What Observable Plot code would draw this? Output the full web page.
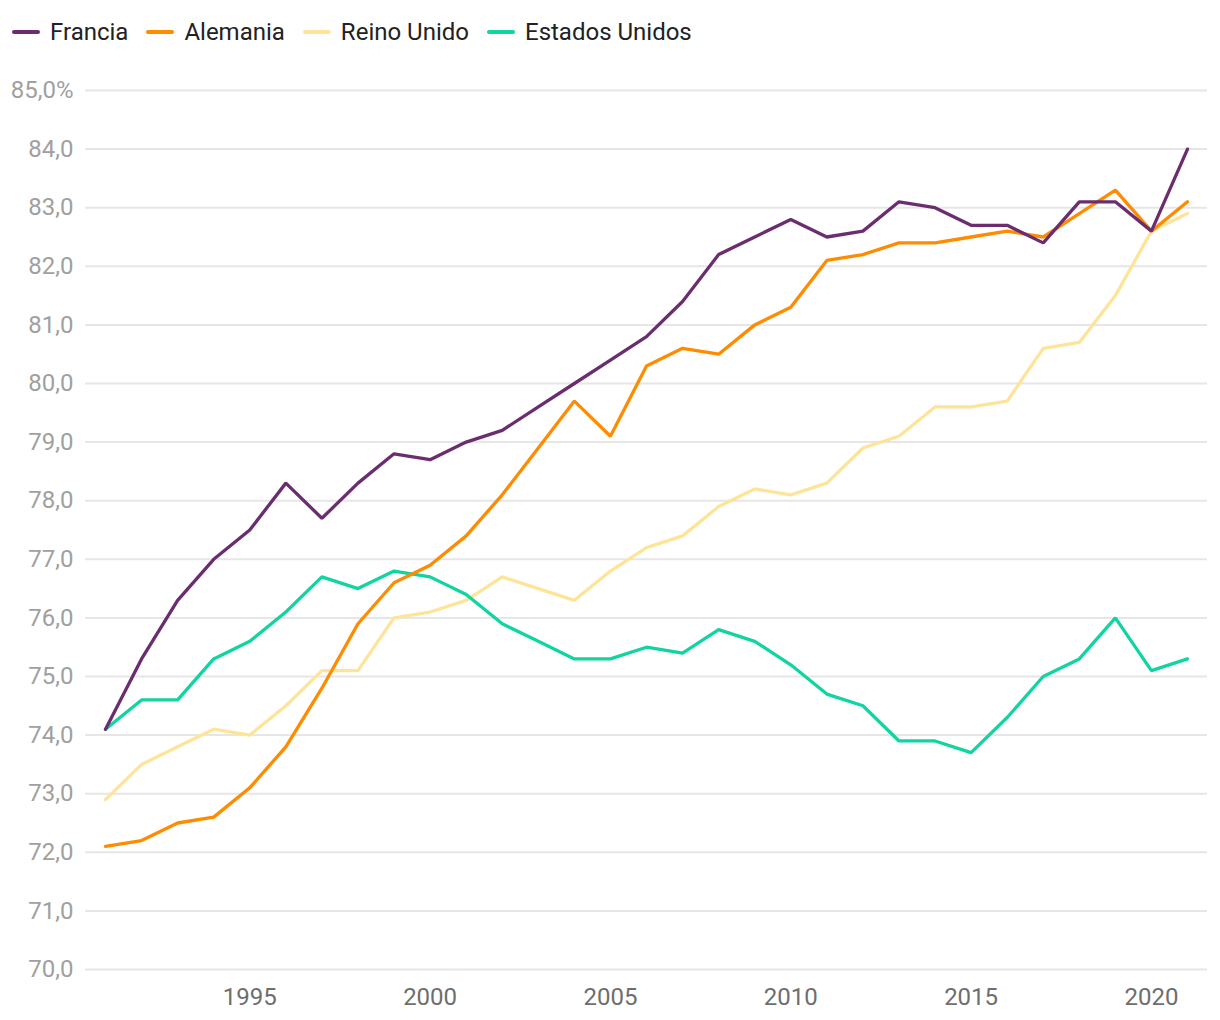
<!DOCTYPE html>
<html>
<head>
<meta charset="utf-8">
<script src="https://cdn.jsdelivr.net/npm/d3@7"></script>
<script src="https://cdn.jsdelivr.net/npm/@observablehq/plot@0.6"></script>
<style>
  html, body { margin: 0; padding: 0; background: #fff; }
  body { width: 1220px; height: 1020px; font-family: Roboto, sans-serif; overflow: hidden; }
  #legend { height: 64px; display: flex; align-items: center; padding-left: 10px; box-sizing: border-box; }
  .item { display: flex; align-items: center; margin-right: 16px; font-size: 24px; color: #222; }
  .sw { width: 28px; height: 4px; border-radius: 2px; margin: 0 10px 0 2px; }
  svg { display: block; }
</style>
</head>
<body>
<div id="legend"></div>
<div id="chart"></div>
<script>
const years = [1991,1992,1993,1994,1995,1996,1997,1998,1999,2000,2001,2002,2003,2004,2005,2006,2007,2008,2009,2010,2011,2012,2013,2014,2015,2016,2017,2018,2019,2020,2021];
const francia = [74.1,75.3,76.3,77.0,77.5,78.3,77.7,78.3,78.8,78.7,79.0,79.2,79.6,80.0,80.4,80.8,81.4,82.2,82.5,82.8,82.5,82.6,83.1,83.0,82.7,82.7,82.4,83.1,83.1,82.6,84.0];
const alemania = [72.1,72.2,72.5,72.6,73.1,73.8,74.8,75.9,76.6,76.9,77.4,78.1,78.9,79.7,79.1,80.3,80.6,80.5,81.0,81.3,82.1,82.2,82.4,82.4,82.5,82.6,82.5,82.9,83.3,82.6,83.1];
const reinoUnido = [72.9,73.5,73.8,74.1,74.0,74.5,75.1,75.1,76.0,76.1,76.3,76.7,76.5,76.3,76.8,77.2,77.4,77.9,78.2,78.1,78.3,78.9,79.1,79.6,79.6,79.7,80.6,80.7,81.5,82.6,82.9];
const estadosUnidos = [74.1,74.6,74.6,75.3,75.6,76.1,76.7,76.5,76.8,76.7,76.4,75.9,75.6,75.3,75.3,75.5,75.4,75.8,75.6,75.2,74.7,74.5,73.9,73.9,73.7,74.3,75.0,75.3,76.0,75.1,75.3];
const seriesNames = ["Francia","Alemania","Reino Unido","Estados Unidos"];
const seriesColors = ["#6b2d70","#ff8c00","#fee499","#12d4a1"];
const yTicks = [70,71,72,73,74,75,76,77,78,79,80,81,82,83,84,85];
const xTicks = [1995,2000,2005,2010,2015,2020];

const seriesValues = [francia, alemania, reinoUnido, estadosUnidos];
const data = [];
seriesNames.forEach((name, i) => {
  years.forEach((yr, j) => data.push({serie: name, year: yr, value: seriesValues[i][j]}));
});
const drawOrder = ["Reino Unido","Estados Unidos","Alemania","Francia"];

// legend
const legend = document.getElementById("legend");
seriesNames.forEach((n, i) => {
  const it = document.createElement("div");
  it.className = "item";
  const sw = document.createElement("span");
  sw.className = "sw";
  sw.style.background = seriesColors[i];
  it.appendChild(sw);
  it.appendChild(document.createTextNode(n));
  legend.appendChild(it);
});

const fmtY = d => d === 85 ? "85,0%" : d.toFixed(1).replace(".", ",");

const chart = Plot.plot({
  width: 1220,
  height: 956,
  marginTop: 26,
  marginBottom: 51,
  marginLeft: 85,
  marginRight: 13,
  style: {fontFamily: "Roboto, sans-serif", fontSize: "24px", background: "#fff"},
  x: {domain: [1991, 2021], inset: 20},
  y: {domain: [70, 85]},
  color: {domain: seriesNames, range: seriesColors},
  marks: [
    Plot.gridY(yTicks, {stroke: "#e6e6e6", strokeOpacity: 1, strokeWidth: 2}),
    Plot.axisY(yTicks, {tickSize: 0, tickPadding: 12, tickFormat: fmtY, fill: "#a0a0a0", fontSize: 24, label: null}),
    Plot.axisX(xTicks, {tickSize: 0, tickPadding: 18, tickFormat: d => String(d), fill: "#6e6e6e", fontSize: 24, label: null}),
    ...drawOrder.map(n => Plot.line(data.filter(d => d.serie === n), {
      x: "year", y: "value", stroke: "serie", strokeWidth: 3.3, strokeLinejoin: "miter", strokeLinecap: "round"
    }))
  ]
});
document.getElementById("chart").appendChild(chart);
</script>
</body>
</html>
